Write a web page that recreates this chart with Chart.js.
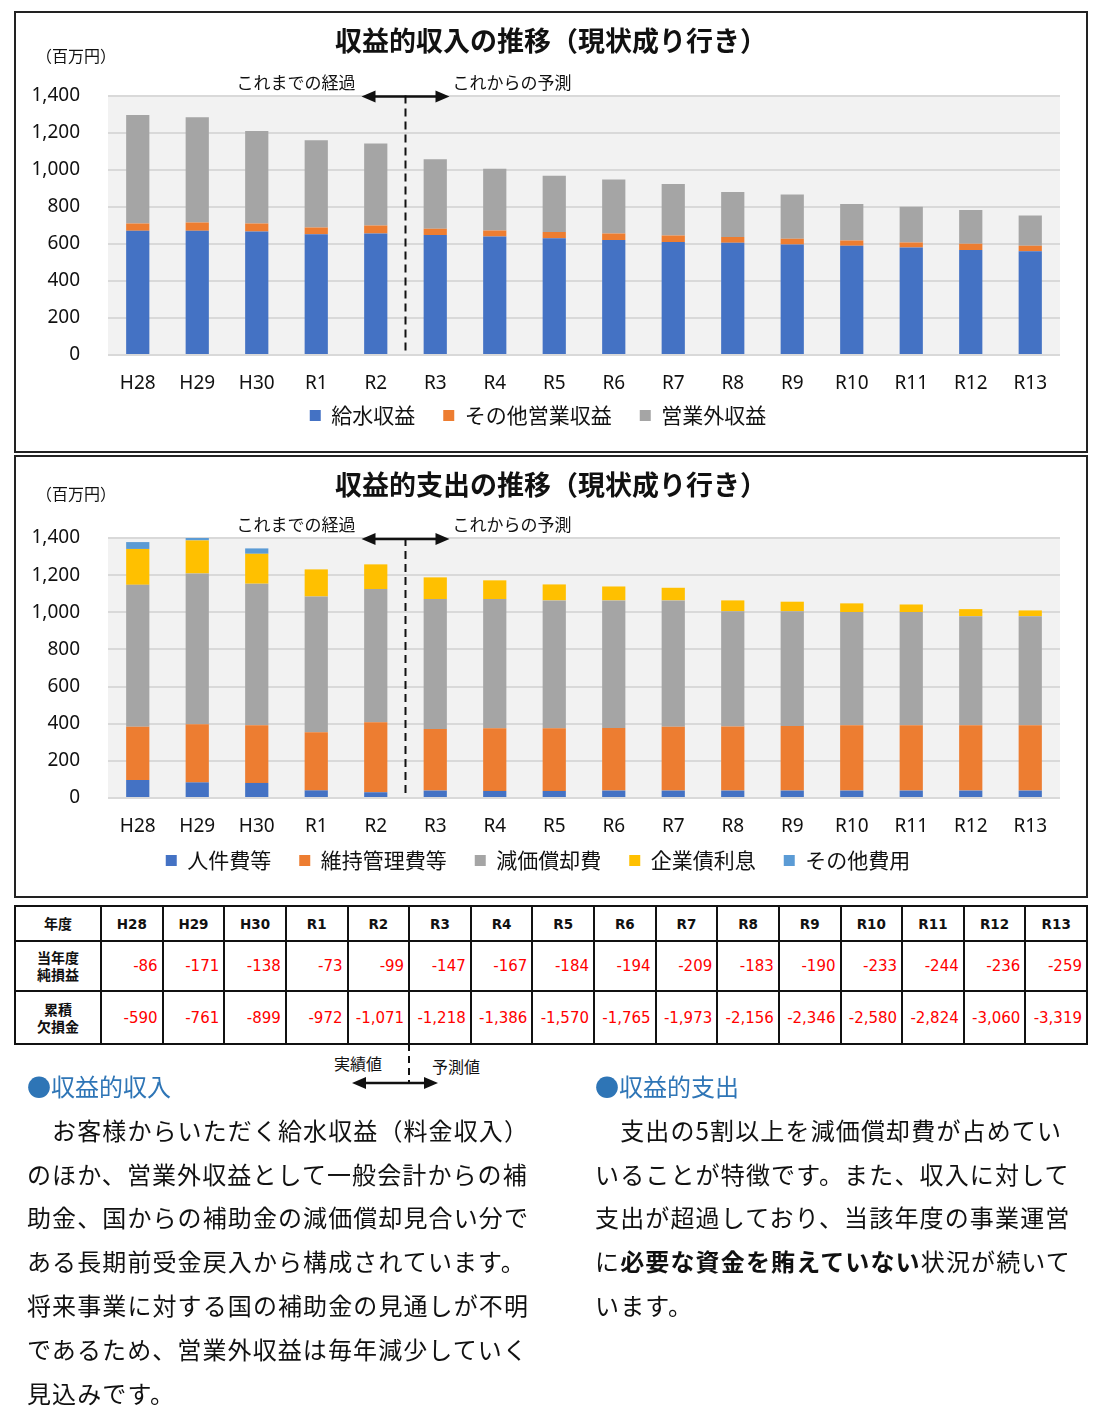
<!DOCTYPE html>
<html lang="ja">
<head>
<meta charset="utf-8">
<script src="https://cdn.jsdelivr.net/npm/chart.js@4.4.1/dist/chart.umd.min.js"></script>
<style>
  body { margin: 0; width: 1100px; height: 1412px; background: #fff; position: relative; font-family: "Noto Sans CJK JP", sans-serif; color: #111; }
  .box { position: absolute; left: 14px; width: 1070px; border: 2px solid #222; }
  #box1 { top: 11px; height: 438px; }
  #box2 { top: 455px; height: 439px; }
  .wrap { position: relative; width: 1070px; height: 100%; }
  table { position: absolute; left: 14px; top: 905px; width: 1074px; height: 138px; border-collapse: collapse; table-layout: fixed; }
  td { border: 2px solid #111; padding: 0 4px 0 0; font-family: "DejaVu Sans", sans-serif; font-size: 15px; color: #f00; text-align: right; }
  td.hd { font-weight: bold; font-size: 13.5px; color: #111; text-align: center; padding: 0; }
  td.lbl { font-family: "Noto Sans CJK JP", sans-serif; font-weight: bold; font-size: 14px; line-height: 17px; color: #111; text-align: center; padding: 0; }
  .txt { position: absolute; top: 1064px; font-size: 24px; line-height: 43.8px; }
  .txt h3 { margin: 0; font-size: 24px; font-weight: normal; color: #2e75b6; letter-spacing: 0; }
  #left { left: 27px; letter-spacing: 1.1px; }
  #right { left: 595px; letter-spacing: 1.15px; }
  .note { position: absolute; font-size: 16px; }
</style>
</head>
<body>
<div class="box" id="box1"><div class="wrap"><canvas id="incomeChart"></canvas></div></div>
<div class="box" id="box2"><div class="wrap"><canvas id="expenseChart"></canvas></div></div>
<table id="plTable"></table>

<div class="note" style="left:334px; top:1051px;">実績値</div>
<div class="note" style="left:432px; top:1054px;">予測値</div>
<svg style="position:absolute; left:0; top:0;" width="1100" height="1412">
  <line x1="409" y1="1044" x2="409" y2="1083" stroke="#111" stroke-width="2" stroke-dasharray="7,5"/>
  <line x1="362" y1="1083" x2="428" y2="1083" stroke="#111" stroke-width="2.5"/>
  <polygon points="352,1083 366,1077 366,1089" fill="#111"/>
  <polygon points="438,1083 424,1077 424,1089" fill="#111"/>
</svg>

<div class="txt" id="left">
  <h3>●収益的収入</h3>
  　お客様からいただく給水収益（料金収入）<br>
  のほか、営業外収益として一般会計からの補<br>
  助金、国からの補助金の減価償却見合い分で<br>
  ある長期前受金戻入から構成されています。<br>
  将来事業に対する国の補助金の見通しが不明<br>
  であるため、営業外収益は毎年減少していく<br>
  見込みです。
</div>
<div class="txt" id="right">
  <h3>●収益的支出</h3>
  　支出の5割以上を減価償却費が占めてい<br>
  いることが特徴です。また、収入に対して<br>
  支出が超過しており、当該年度の事業運営<br>
  に<b>必要な資金を賄えていない</b>状況が続いて<br>
  います。
</div>

<script>
const years = ['H28', 'H29', 'H30', 'R1', 'R2', 'R3', 'R4', 'R5', 'R6', 'R7', 'R8', 'R9', 'R10', 'R11', 'R12', 'R13'];

// 収益的収入 (百万円)
const waterRevenue = [670, 670, 666, 652, 656, 648, 639, 630, 621, 610, 605, 596, 589, 580, 567, 560];
const otherOpRevenue = [40, 45, 44, 36, 43, 33, 33, 33, 35, 35, 31, 31, 29, 27, 33, 30];
const nonOpRevenue = [585, 567, 498, 471, 442, 375, 333, 304, 291, 277, 244, 239, 197, 193, 182, 162];

// 収益的支出 (百万円)
const personnel = [97, 84, 81, 41, 31, 40, 38, 38, 40, 40, 40, 40, 40, 40, 40, 40];
const maintenance = [286, 313, 311, 313, 377, 332, 338, 338, 337, 343, 345, 348, 352, 352, 352, 352];
const depreciation = [765, 812, 762, 731, 717, 699, 695, 688, 687, 681, 621, 618, 609, 609, 587, 587];
const bondInterest = [193, 178, 161, 146, 133, 117, 101, 86, 75, 68, 58, 51, 47, 41, 38, 31];
const otherExpense = [37, 66, 29, 0, 0, 0, 0, 0, 0, 0, 0, 0, 0, 0, 0, 0];

// 表
const netIncome = [-86, -171, -138, -73, -99, -147, -167, -184, -194, -209, -183, -190, -233, -244, -236, -259];
const accumDeficit = [-590, -761, -899, -972, -1071, -1218, -1386, -1570, -1765, -1973, -2156, -2346, -2580, -2824, -3060, -3319];

const yTicks = [0, 200, 400, 600, 800, 1000, 1200, 1400];

const jpFont = '"Noto Sans CJK JP", sans-serif';
const numFont = '"Noto Sans", sans-serif';

const BLUE = '#4472c4', ORANGE = '#ed7d31', GRAY = '#a5a5a5', YELLOW = '#ffc000', LIGHTBLUE = '#5b9bd5';

// plot background, title, unit label and the past/forecast divider
const decor = {
    id: 'decor',
    afterLayout(chart, args, opts) {
        // pull the legend up closer to the category labels
        chart.legend.top -= opts.legendShift;
        chart.legend.bottom -= opts.legendShift;
    },
    beforeDraw(chart) {
        const { ctx, chartArea: a } = chart;
        ctx.save();
        ctx.fillStyle = '#f2f2f2';
        ctx.fillRect(a.left, a.top, a.right - a.left, a.bottom - a.top);
        ctx.restore();
    },
    afterDraw(chart, args, opts) {
        const { ctx, chartArea: a, scales: { x } } = chart;
        const mx = (x.getPixelForValue(4) + x.getPixelForValue(5)) / 2;
        ctx.save();
        ctx.fillStyle = '#111';
        ctx.textBaseline = 'middle';

        ctx.font = 'bold 27px ' + jpFont;
        ctx.textAlign = 'center';
        ctx.fillText(opts.title, 535, 28);

        ctx.font = '16px ' + jpFont;
        ctx.textAlign = 'left';
        ctx.fillText('（百万円）', 20, opts.unitY);

        ctx.font = '17px ' + jpFont;
        ctx.textAlign = 'right';
        ctx.fillText('これまでの経過', mx - 50, a.top - 13);
        ctx.textAlign = 'left';
        ctx.fillText('これからの予測', mx + 47, a.top - 13);

        ctx.strokeStyle = '#111';
        ctx.lineWidth = 2;
        ctx.setLineDash([8, 5]);
        ctx.beginPath();
        ctx.moveTo(mx, a.top);
        ctx.lineTo(mx, a.bottom);
        ctx.stroke();

        ctx.setLineDash([]);
        ctx.lineWidth = 2.5;
        const ay = a.top + 1;
        ctx.beginPath();
        ctx.moveTo(mx - 34, ay);
        ctx.lineTo(mx + 34, ay);
        ctx.stroke();
        ctx.beginPath();
        ctx.moveTo(mx - 44, ay); ctx.lineTo(mx - 30, ay - 6); ctx.lineTo(mx - 30, ay + 6); ctx.closePath();
        ctx.moveTo(mx + 44, ay); ctx.lineTo(mx + 30, ay - 6); ctx.lineTo(mx + 30, ay + 6); ctx.closePath();
        ctx.fill();
        ctx.restore();
    }
};

const makeChart = (id, title, datasets, padTop, padBottom, unitY, legendShift) => {
    return new Chart(document.getElementById(id), {
        type: 'bar',
        data: {
            labels: years,
            datasets: datasets.map(d => ({
                label: d.label,
                data: d.data,
                backgroundColor: d.color,
                borderWidth: 0,
                categoryPercentage: 1,
                barPercentage: 0.39,
                clip: 0
            }))
        },
        options: {
            responsive: true,
            maintainAspectRatio: false,
            animation: false,
            layout: { padding: { left: 0, right: 26, top: padTop, bottom: padBottom } },
            plugins: {
                title: { display: false },
                legend: {
                    position: 'bottom',
                    maxHeight: 52,
                    labels: {
                        color: '#111',
                        font: { family: jpFont, size: 21 },
                        boxWidth: 11,
                        boxHeight: 11,
                        padding: 28
                    }
                },
                tooltip: { enabled: false },
                decor: { title: title, unitY: unitY, legendShift: legendShift }
            },
            scales: {
                x: {
                    stacked: true,
                    grid: { display: false },
                    border: { display: false },
                    ticks: { color: '#111', font: { family: numFont, size: 19 }, padding: 9 },
                    afterFit: s => { s.height = 44; }
                },
                y: {
                    stacked: true,
                    min: 0,
                    max: 1400,
                    afterBuildTicks: s => { s.ticks = yTicks.map(v => ({ value: v })); },
                    grid: { color: '#d9d9d9', lineWidth: 2, drawTicks: false },
                    border: { display: false },
                    ticks: {
                        color: '#111',
                        font: { family: numFont, size: 19 },
                        padding: 28,
                        callback: v => v.toLocaleString('en-US')
                    },
                    afterFit: s => { s.width = 92; }
                }
            }
        },
        plugins: [decor]
    });
};

makeChart('incomeChart', '収益的収入の推移（現状成り行き）', [
    { label: '給水収益', data: waterRevenue, color: BLUE },
    { label: 'その他営業収益', data: otherOpRevenue, color: ORANGE },
    { label: '営業外収益', data: nonOpRevenue, color: GRAY }
], 82.5, 0, 43, 22);

makeChart('expenseChart', '収益的支出の推移（現状成り行き）', [
    { label: '人件費等', data: personnel, color: BLUE },
    { label: '維持管理費等', data: maintenance, color: ORANGE },
    { label: '減価償却費', data: depreciation, color: GRAY },
    { label: '企業債利息', data: bondInterest, color: YELLOW },
    { label: 'その他費用', data: otherExpense, color: LIGHTBLUE }
], 81, 2, 37, 20);

// 純損益テーブル
const fmt = v => v.toLocaleString('en-US');
const table = document.getElementById('plTable');
let html = '<colgroup><col style="width:86px">' + years.map(() => '<col>').join('') + '</colgroup>';
html += '<tr style="height:35px"><td class="lbl">年度</td>' + years.map(y => `<td class="hd">${y}</td>`).join('') + '</tr>';
html += '<tr style="height:50px"><td class="lbl">当年度<br>純損益</td>' + netIncome.map(v => `<td>${fmt(v)}</td>`).join('') + '</tr>';
html += '<tr style="height:53px"><td class="lbl">累積<br>欠損金</td>' + accumDeficit.map(v => `<td>${fmt(v)}</td>`).join('') + '</tr>';
table.innerHTML = html;
</script>
</body>
</html>
